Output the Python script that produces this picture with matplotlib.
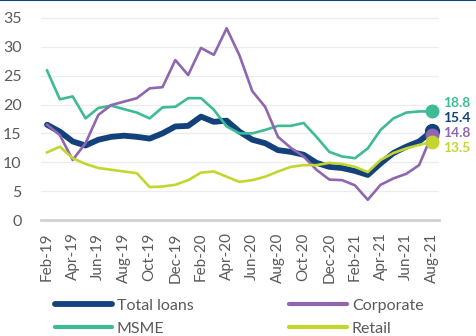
import numpy as np
import matplotlib
matplotlib.use("Agg")
import matplotlib.pyplot as plt

# monthly data Feb-19 .. Aug-21
months = ["Feb-19", "Mar-19", "Apr-19", "May-19", "Jun-19", "Jul-19", "Aug-19", "Sep-19",
          "Oct-19", "Nov-19", "Dec-19", "Jan-20", "Feb-20", "Mar-20", "Apr-20", "May-20",
          "Jun-20", "Jul-20", "Aug-20", "Sep-20", "Oct-20", "Nov-20", "Dec-20", "Jan-21",
          "Feb-21", "Mar-21", "Apr-21", "May-21", "Jun-21", "Jul-21", "Aug-21"]

total_loans = [16.5, 15.3, 13.6, 12.9, 13.9, 14.4, 14.6, 14.4, 14.1, 15.0, 16.2, 16.3, 17.9, 17.0,
               17.2, 15.3, 13.9, 13.3, 12.1, 11.8, 11.3, 9.9, 9.2, 9.0, 8.5, 7.8, 9.8, 11.6,
               12.7, 13.6, 15.4]
corporate = [16.5, 14.7, 10.4, 13.3, 18.2, 19.9, 20.5, 21.1, 22.8, 23.0, 27.7, 25.1, 29.8, 28.6,
             33.2, 28.5, 22.3, 19.6, 14.4, 12.5, 11.0, 8.7, 7.0, 6.9, 6.0, 3.5, 6.1, 7.2,
             8.0, 9.5, 14.8]
msme = [25.9, 20.9, 21.4, 17.6, 19.4, 19.8, 19.2, 18.6, 17.6, 19.5, 19.6, 21.1, 21.1, 19.1,
        16.2, 15.0, 15.0, 15.6, 16.3, 16.3, 16.8, 14.4, 11.8, 11.0, 10.7, 12.4, 15.6, 17.6,
        18.6, 18.8, 18.8]
retail = [11.7, 12.7, 10.7, 9.7, 9.0, 8.7, 8.4, 8.1, 5.7, 5.8, 6.1, 6.9, 8.2, 8.4,
          7.5, 6.6, 6.9, 7.5, 8.4, 9.2, 9.5, 9.5, 9.9, 9.7, 9.2, 8.3, 10.4, 11.6,
          12.4, 13.0, 13.5]

navy = "#12417c"
purple = "#8f66b0"
teal = "#3cbb95"
lime = "#c2d62f"
grey = "#5a5a5a"

plt.rcParams["font.family"] = ["Lato", "DejaVu Sans"]

fig = plt.figure(figsize=(4.76, 3.36), dpi=100)
ax = fig.add_axes([41 / 476, 116 / 336, 398 / 476, 205 / 336])

x = np.arange(len(months))
l1, = ax.plot(x, total_loans, color=navy, lw=4.2, solid_capstyle="round", solid_joinstyle="round", zorder=3)
l3, = ax.plot(x, msme, color=teal, lw=1.9, solid_joinstyle="round", zorder=4)
l2, = ax.plot(x, corporate, color=purple, lw=1.9, solid_joinstyle="round", zorder=5)
l4, = ax.plot(x, retail, color=lime, lw=1.9, solid_joinstyle="round", zorder=6)

# end markers + labels (labels spread vertically so they don't collide)
label_y = [20.3, 17.6, 15.0, 12.4]
for ser, col, ly, z, ms in [(msme, teal, label_y[0], 4, 9),
                            (total_loans, navy, label_y[1], 3, 10),
                            (corporate, purple, label_y[2], 5, 9),
                            (retail, lime, label_y[3], 6, 9)]:
    ax.plot(x[-1], ser[-1], "o", color=col, ms=ms, zorder=z, clip_on=False)
    ax.text(x[-1] + 0.85, ly, f"{ser[-1]:.1f}", color=col, fontsize=10, fontweight="bold",
            va="center", ha="left", clip_on=False)

ax.set_xlim(-0.47, 30.55)
ax.set_ylim(0, 35.5)
ax.set_yticks(range(0, 36, 5))
ax.set_xticks(x[::2])
ax.set_xticklabels(months[::2], rotation=90)
ax.tick_params(axis="y", length=0, pad=14, labelsize=11.5, labelcolor=grey)
ax.tick_params(axis="x", length=0, pad=9, labelsize=11, labelcolor=grey)
for lab in ax.get_yticklabels():
    lab.set_horizontalalignment("right")

ax.grid(axis="y", color="#ececec", lw=0.9)
ax.set_axisbelow(True)
for s in ["top", "right", "left"]:
    ax.spines[s].set_visible(False)
ax.spines["bottom"].set_color("#d0d0d0")
ax.spines["bottom"].set_linewidth(2)

# top border
fig.add_artist(plt.Line2D([0, 1], [0.999, 0.999], color=navy, lw=1.5, transform=fig.transFigure))

leg = fig.legend([l1, l3, l2, l4], ["Total loans", "MSME", "Corporate", "Retail"],
                 ncol=2, loc="upper left", bbox_to_anchor=(0.108, 0.121), frameon=False,
                 fontsize=11.5, handlelength=3.6, handletextpad=0.3, columnspacing=6.0,
                 labelspacing=0.55, borderaxespad=0, borderpad=0.2)
for t in leg.get_texts():
    t.set_color(grey)
for h in leg.get_lines():
    h.set_solid_capstyle("round")
leg.get_lines()[1].set_linewidth(3)
leg.get_lines()[2].set_linewidth(3)
leg.get_lines()[3].set_linewidth(3)

fig.savefig("out.png", dpi=100)
